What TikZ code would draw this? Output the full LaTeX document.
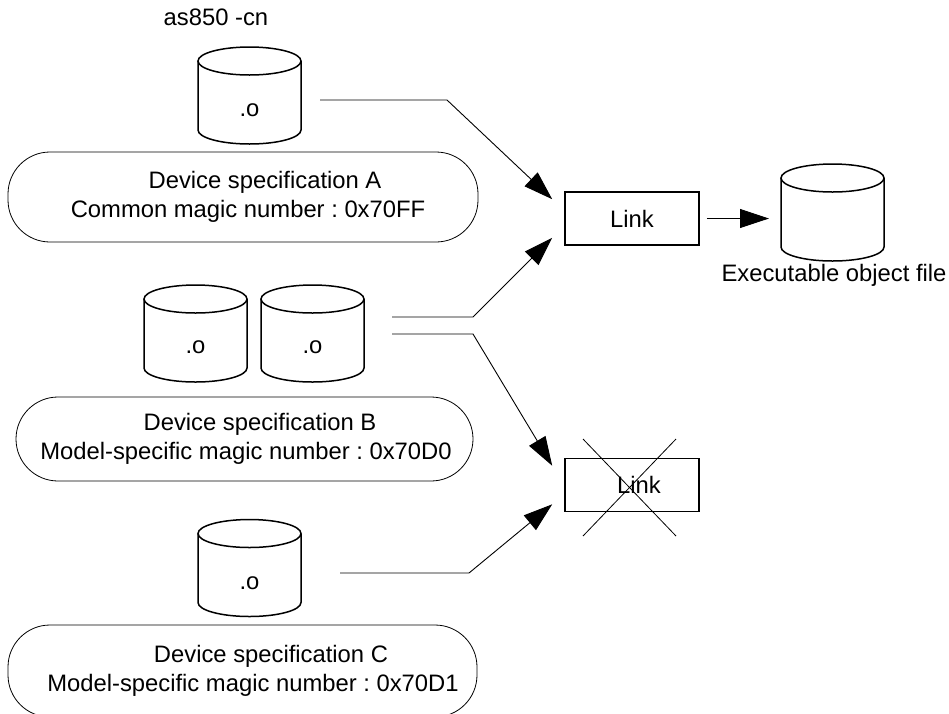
\documentclass[tikz,border=0pt]{standalone}
\usepackage{fontspec}
\setmainfont{Liberation Sans}
\usetikzlibrary{arrows.meta,positioning}
\frenchspacing

\tikzset{
  disk/.style={minimum width=103pt, minimum height=97pt, inner sep=0pt},
  spec/.style={draw, rectangle, rounded corners=42pt, line width=0.8pt, align=center},
  linkbox/.style={draw, line width=1.6pt, minimum width=134pt, minimum height=53pt},
  arr/.style={-{Triangle[length=29pt,width=19pt]}, line width=0.9pt},
}

\begin{document}
\begin{tikzpicture}[x=1pt, y=-1pt, every node/.style={font=\fontsize{23.8pt}{29pt}\selectfont}]
\useasboundingbox (0,0) rectangle (949,713);
\node (cmd) at (216,17) {as850 -cn};
% object files
\node [disk] (objA) at (249.5,95.5) {};
\node [disk] (objB1) at (195.5,333.5) {};
\node [disk] (objB2) at (312.5,333.5) {};
\node [disk] (objC) at (249.5,568) {};
\node [disk] (exec) at (832.5,212.5) {};
\foreach \n in {objA,objB1,objB2,objC,exec} {
  \draw [line width=1.5pt] ([shift={(-51.5,-34.5)}]\n.center) -- ++(0,69)
    arc [start angle=180, end angle=0, x radius=51.5, y radius=14] -- ++(0,-69);
  \draw [line width=1.5pt] ([shift={(0,-34.5)}]\n.center) ellipse [x radius=51.5, y radius=14];
}
\node (oA) at ([shift={(0,14.5)}]objA.center) {.o};
\node (oB1) at ([shift={(0,13.5)}]objB1.center) {.o};
\node (oB2) at ([shift={(0,13.5)}]objB2.center) {.o};
\node (oC) at ([shift={(0,15)}]objC.center) {.o};
\node (exlbl) at (834,275) {Executable object file};
% device specifications
\node [spec, minimum width=470pt, minimum height=90pt] (specA) at (243,197)
  {\hspace*{44pt}Device specification A\\\hspace*{10pt}Common magic number : 0x70FF};
\node [spec, minimum width=457pt, minimum height=84pt] (specB) at (244.5,439)
  {\hspace*{31pt}Device specification B\\\hspace*{3pt}Model-specific magic number : 0x70D0};
\node [spec, minimum width=469pt, minimum height=92pt] (specC) at (242.5,671)
  {\hspace*{57pt}Device specification C\\\hspace*{21pt}Model-specific magic number : 0x70D1};
% link steps
\node [linkbox] (link1) at (632,218.5) {Link};
\node [linkbox] (link2) at (632,485) {\hspace*{14pt}Link};
\draw [line width=0.8pt] ([shift={(-49,-46)}]link2.center) -- ([shift={(44,51)}]link2.center);
\draw [line width=0.8pt] ([shift={(44,-46)}]link2.center) -- ([shift={(-49,51)}]link2.center);
% connectors
\coordinate (outA) at (320,100);
\coordinate (outB1) at (392,317);
\coordinate (outB2) at (392,334);
\coordinate (outC) at (340,573);
\coordinate (toExec) at (769,218.5);
\draw [arr] (outA) -- ++(127,0) -- ([shift={(-12,8)}]link1.north west);
\draw [arr] (outB1) -- ++(81,0) -- ([shift={(-12,-8)}]link1.south west);
\draw [arr] (outB2) -- ++(81,0) -- ([shift={(-12,8)}]link2.north west);
\draw [arr] (outC) -- ++(129,0) -- ([shift={(-12,-8)}]link2.south west);
\draw [arr, shorten <=7pt] (link1.east) -- (toExec);
\end{tikzpicture}
\end{document}
